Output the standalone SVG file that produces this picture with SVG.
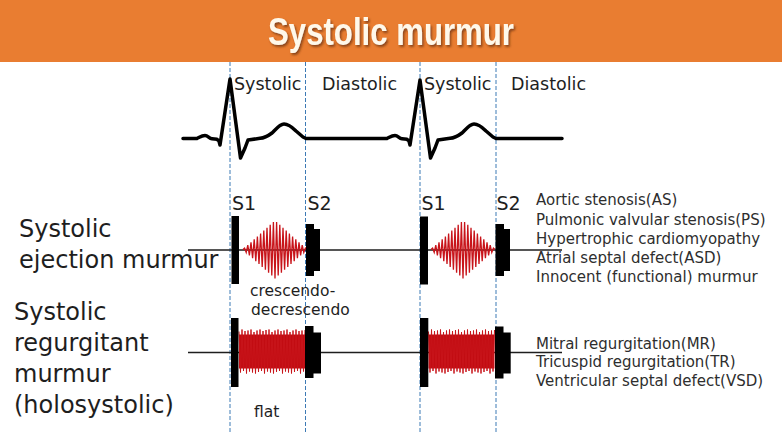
<svg xmlns="http://www.w3.org/2000/svg" xmlns:xlink="http://www.w3.org/1999/xlink" width="782" height="440" viewBox="0 0 782 440">
<style>
.lbl{font-family:"DejaVu Sans","Liberation Sans",sans-serif;fill:#1e1e1e}
.big{font-size:24px}
.mid{font-size:17.5px}
.s{font-size:19px}
.sm{font-size:15.5px}
.lst{font-family:"DejaVu Sans","Liberation Sans",sans-serif;font-size:15px;fill:#2e2e2e}
.dash{stroke:#3d7ab5;stroke-width:1;stroke-dasharray:4 2;fill:none}
.row{stroke:#1e1e1e;stroke-width:1.3;fill:none}
.snd{fill:#000}
.red{stroke:#c8141a;stroke-width:1;fill:none;stroke-linejoin:miter}
.dia{stroke-width:1.3}
</style>
<defs>
<filter id="sh" x="-10%" y="-30%" width="120%" height="160%">
<feDropShadow dx="1.5" dy="2" stdDeviation="1" flood-color="#6a3210" flood-opacity="0.75"/>
</filter>
<polyline id="diamond" class="red dia" points="0,0 1.6,-1.45 3.2,2.9 4.8,-4.35 6.4,5.8 8,-7.25 9.6,8.7 11.2,-10.15 12.8,11.6 14.4,-13.05 16,14.5 17.6,-15.95 19.2,17.4 20.8,-18.85 22.4,20.3 24,-21.75 25.6,23.2 27.2,-24.65 28.8,26.1 30.4,-27.55 32,29 33.6,-27.55 35.2,26.1 36.8,-24.65 38.4,23.2 40,-21.75 41.6,20.3 43.2,-18.85 44.8,17.4 46.4,-15.95 48,14.5 49.6,-13.05 51.2,11.6 52.8,-10.15 54.4,8.7 56,-7.25 57.6,5.8 59.2,-4.35 60.8,2.9 62.4,-1.45 64,0"/>
<g id="block">
<rect x="0" y="-17" width="66" height="34" fill="#c20c12"/>
<polyline class="red" points="0,-20 1.5,21 3,-22 4.5,19.5 6,-20.5 7.5,22 9,-21 10.5,20 12,-22 13.5,21 15,-19.5 16.5,22 18,-21 19.5,20.5 21,-22 22.5,19.5 24,-20.5 25.5,22 27,-21.5 28.5,20 30,-22 31.5,21 33,-19.5 34.5,22 36,-21 37.5,20.5 39,-22 40.5,19.5 42,-20.5 43.5,22 45,-21 46.5,20 48,-22 49.5,21 51,-19.5 52.5,22 54,-21 55.5,20.5 57,-22 58.5,19.5 60,-20.5 61.5,22 63,-21 64.5,20 66,-21.5"/>
</g>
</defs>
<rect width="782" height="440" fill="#ffffff"/>

<g id="header">
<rect x="0" y="0" width="782" height="62" fill="#e97d31"/>
<text x="391" y="45" text-anchor="middle" font-family="'Liberation Sans',Arial,sans-serif" font-weight="bold" font-size="38" fill="#fff8ea" textLength="246" lengthAdjust="spacingAndGlyphs" filter="url(#sh)">Systolic murmur</text>
</g>

<g id="guides">
<line class="dash" x1="230" y1="62" x2="230" y2="432"/>
<line class="dash" x1="305.5" y1="62" x2="305.5" y2="432"/>
<line class="dash" x1="420" y1="62" x2="420" y2="432"/>
<line class="dash" x1="496" y1="62" x2="496" y2="432"/>
</g>

<g id="ecg">
<path d="M183,138.5 L197,138.5 C200,137 202,135.5 205,135.5 C208,135.5 209,138.5 212,138.8 L217,139.3 L219,141 L220,145 L230,79 L240.5,158 L245,148 L248,140 L260,138.3 C265,138 268,136 272,133 C276,129 280,124 284,124 C288,124 292,127 296,131 L303,137 L306,138.5 L387,138.5 C390,137 392,135.5 395,135.5 C398,135.5 399,138.5 402,138.8 L407,139.3 L409,141 L410,145 L420,80 L430.5,158 L435,148 L438,140 L450,138.3 C455,138 458,136 462,133 C466,129 470,124 474,124 C478,124 482,127 486,131 L493,137 L496,138.5 L562,138.5" fill="none" stroke="#000" stroke-width="3.5" stroke-linejoin="round" stroke-linecap="round"/>
<text class="lbl mid" x="234" y="90">Systolic</text>
<text class="lbl mid" x="322" y="90">Diastolic</text>
<text class="lbl mid" x="424" y="90">Systolic</text>
<text class="lbl mid" x="511" y="90">Diastolic</text>
</g>

<g id="ejection">
<text class="lbl big" x="19" y="237">Systolic</text>
<text class="lbl big" x="19" y="268">ejection murmur</text>
<line class="row" x1="188" y1="250" x2="562" y2="250"/>
<use xlink:href="#diamond" x="243" y="249.5"/>
<use xlink:href="#diamond" x="431" y="249.5"/>
<rect class="snd" x="231.5" y="216" width="7.5" height="68"/>
<rect class="snd" x="306" y="224" width="8" height="52"/>
<rect class="snd" x="313.5" y="229" width="6.5" height="42"/>
<rect class="snd" x="420" y="216.5" width="8" height="68"/>
<rect class="snd" x="495.5" y="224" width="8.5" height="52"/>
<rect class="snd" x="503.5" y="229" width="6.5" height="42"/>
<text class="lbl s" x="232" y="210">S1</text>
<text class="lbl s" x="307.5" y="210">S2</text>
<text class="lbl s" x="421.5" y="210">S1</text>
<text class="lbl s" x="496.5" y="210">S2</text>
<text class="lbl sm" x="250" y="296">crescendo-</text>
<text class="lbl sm" x="251" y="315">decrescendo</text>
</g>

<g id="ejection-list">
<text class="lst" x="536" y="205">Aortic stenosis(AS)</text>
<text class="lst" x="536" y="224.5">Pulmonic valvular stenosis(PS)</text>
<text class="lst" x="536" y="244">Hypertrophic cardiomyopathy</text>
<text class="lst" x="536" y="263">Atrial septal defect(ASD)</text>
<text class="lst" x="536" y="282">Innocent (functional) murmur</text>
</g>

<g id="regurgitant">
<text class="lbl big" x="14" y="320">Systolic</text>
<text class="lbl big" x="14" y="351">regurgitant</text>
<text class="lbl big" x="14" y="382">murmur</text>
<text class="lbl big" x="14" y="413">(holosystolic)</text>
<line class="row" x1="188" y1="352.5" x2="562" y2="352.5"/>
<use xlink:href="#block" x="239" y="351.5"/>
<use xlink:href="#block" x="428.5" y="351.5"/>
<rect class="snd" x="231" y="318" width="7.5" height="69"/>
<rect class="snd" x="305" y="326" width="8.5" height="52"/>
<rect class="snd" x="313" y="332.5" width="8" height="41"/>
<rect class="snd" x="420" y="318" width="8.3" height="69"/>
<rect class="snd" x="495" y="326.5" width="8.5" height="52"/>
<rect class="snd" x="503" y="332.5" width="7.7" height="41"/>
<text class="lbl sm" x="254" y="417">flat</text>
</g>

<g id="regurgitant-list">
<text class="lst" x="536" y="348.5">Mitral regurgitation(MR)</text>
<text class="lst" x="536" y="367">Tricuspid regurgitation(TR)</text>
<text class="lst" x="536" y="385.5">Ventricular septal defect(VSD)</text>
</g>
</svg>
